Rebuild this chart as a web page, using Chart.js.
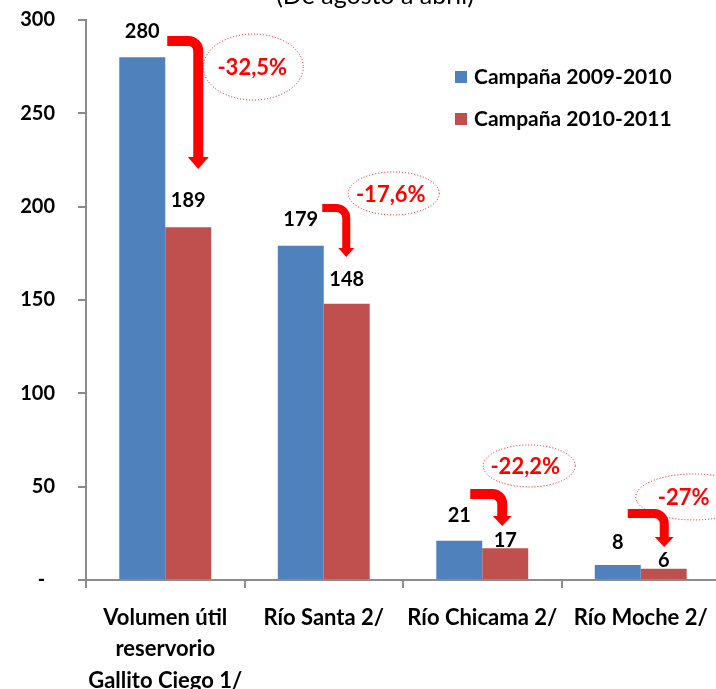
<!DOCTYPE html>
<html><head><meta charset="utf-8">
<script src="https://cdn.jsdelivr.net/npm/chart.js@4.4.0/dist/chart.umd.min.js"></script>
<style>html,body{margin:0;padding:0;background:#fff;overflow:hidden;width:716px;height:689px}
#wrap{width:724px;height:689px}</style></head>
<body><div id="wrap"><canvas id="c" width="724" height="689"></canvas></div>
<script>
// ---- data ----
const categories = [['Volumen útil','reservorio','Gallito Ciego 1/'], 'Río Santa 2/', 'Río Chicama 2/', 'Río Moche 2/'];
const seriesNames = ['Campaña 2009-2010', 'Campaña 2010-2011'];
const values2009 = [280, 179, 21, 8];
const values2010 = [189, 148, 17, 6];
const changeLabels = ['-32,5%', '-17,6%', '-22,2%', '-27%'];
const yTicks = [0, 50, 100, 150, 200, 250, 300];
const titleText = '(De agosto a abril)';

// ---- style / annotation geometry (y in data units, dx in px from category centre) ----
const FONT = 'Lato, "Open Sans", sans-serif';
const AXIS = '#8C8C8C';
const colors = ['#4F81BD', '#C0504D'];
const labelLift = [[26, 26, 25, 23], [27, 24, 8, 8]];
const arrowGeom = [
  {y0: 288.8, tip: 220.2, dx0: 2,   dxv: 33,   w: 10, hw: 21, hl: 12},
  {y0: 199.3, tip: 173.0, dx0: -1.5, dxv: 22.5, w: 8,  hw: 16, hl: 9},
  {y0: 46.1,  tip: 28.9,  dx0: -12, dxv: 20,   w: 10, hw: 19, hl: 10},
  {y0: 35.6,  tip: 17.7,  dx0: -13, dxv: 23.5, w: 9,  hw: 19, hl: 10}
];
const ellipseGeom = [
  {dx: 88, y: 274.8, rx: 50,   ry: 33,   tdx: -1},
  {dx: 70, y: 207.1, rx: 45.5, ry: 21.5, tdx: -3},
  {dx: 47, y: 61.1,  rx: 46,   ry: 21,   tdx: -4},
  {dx: 53, y: 44.5,  rx: 58,   ry: 23,   tdx: -10}
];

const decor = {
  id: 'decor',
  afterDatasetsDraw(chart) {
    const ctx = chart.ctx, xs = chart.scales.x, ys = chart.scales.y;
    ctx.save();
    // value labels
    ctx.font = 'bold 20px ' + FONT;
    ctx.fillStyle = '#000';
    ctx.textAlign = 'center';
    ctx.textBaseline = 'middle';
    chart.data.datasets.forEach((ds, di) => {
      chart.getDatasetMeta(di).data.forEach((el, i) => {
        ctx.fillText(String(ds.data[i]), el.x, el.y - labelLift[di][i]);
      });
    });
    // arrows
    ctx.strokeStyle = '#FF0000';
    ctx.fillStyle = '#FF0000';
    arrowGeom.forEach((g, i) => {
      const cx = xs.getPixelForValue(i);
      const x0 = cx + g.dx0, xv = cx + g.dxv;
      const y0 = ys.getPixelForValue(g.y0), yt = ys.getPixelForValue(g.tip);
      const r = 10;
      ctx.lineWidth = g.w;
      ctx.lineCap = 'butt';
      ctx.beginPath();
      ctx.moveTo(x0, y0);
      ctx.lineTo(xv - r, y0);
      ctx.arcTo(xv, y0, xv, y0 + r, r);
      ctx.lineTo(xv, yt - g.hl + 1);
      ctx.stroke();
      ctx.beginPath();
      ctx.moveTo(xv - g.hw / 2, yt - g.hl);
      ctx.lineTo(xv + g.hw / 2, yt - g.hl);
      ctx.lineTo(xv, yt);
      ctx.closePath();
      ctx.fill();
    });
    // dotted ellipses with percentage text
    ellipseGeom.forEach((g, i) => {
      const ex = xs.getPixelForValue(i) + g.dx, ey = ys.getPixelForValue(g.y);
      ctx.lineWidth = 1;
      ctx.setLineDash([1, 2]);
      ctx.strokeStyle = '#FF0000';
      ctx.beginPath();
      ctx.ellipse(ex, ey, g.rx, g.ry, 0, 0, Math.PI * 2);
      ctx.stroke();
      ctx.setLineDash([]);
      ctx.font = 'bold 22px ' + FONT;
      ctx.fillStyle = '#FF0000';
      ctx.textAlign = 'center';
      ctx.textBaseline = 'middle';
      ctx.fillText(changeLabels[i], ex + g.tdx, ey + 1);
    });
    // legend
    ctx.font = 'bold 21px ' + FONT;
    ctx.textAlign = 'left';
    ctx.textBaseline = 'middle';
    chart.data.datasets.forEach((ds, di) => {
      const yy = 77 + di * 42;
      ctx.fillStyle = ds.backgroundColor;
      ctx.fillRect(455, yy - 6, 12, 12);
      ctx.fillStyle = '#000';
      ctx.fillText(ds.label, 474, yy);
    });
    // title (cut off at the top)
    ctx.font = '25px ' + FONT;
    ctx.textAlign = 'center';
    ctx.textBaseline = 'alphabetic';
    ctx.fillStyle = '#000';
    ctx.fillText(titleText, 375, 4);
    ctx.restore();
  }
};

new Chart(document.getElementById('c'), {
  type: 'bar',
  data: {
    labels: categories,
    datasets: [
      {label: seriesNames[0], data: values2009, backgroundColor: colors[0], barPercentage: 1, categoryPercentage: 0.58, borderWidth: 0},
      {label: seriesNames[1], data: values2010, backgroundColor: colors[1], barPercentage: 1, categoryPercentage: 0.58, borderWidth: 0}
    ]
  },
  options: {
    responsive: false,
    devicePixelRatio: 1,
    animation: false,
    layout: {padding: {top: 20, right: 4, left: 0, bottom: 0}},
    plugins: {legend: {display: false}, tooltip: {enabled: false}, title: {display: false}},
    scales: {
      x: {
        offset: true,
        grid: {offset: true, drawOnChartArea: false, drawTicks: true, tickLength: 8, color: AXIS, lineWidth: 2},
        border: {display: true, color: AXIS, width: 2},
        ticks: {color: '#000', font: {family: FONT, size: 22, weight: 'bold', lineHeight: 1.43}, padding: 14, maxRotation: 0, minRotation: 0, autoSkip: false},
        afterFit: s => { s.height = 109; }
      },
      y: {
        min: 0, max: 300,
        afterBuildTicks: s => { s.ticks = yTicks.map(v => ({value: v})); },
        grid: {drawOnChartArea: false, drawTicks: true, tickLength: 8, color: AXIS, lineWidth: 2},
        border: {display: true, color: AXIS, width: 2},
        ticks: {color: '#000', font: {family: FONT, size: 20, weight: 'bold'}, padding: 23,
          callback: v => v === 0 ? '-  ' : String(v)},
        afterFit: s => { s.width = 86; s.paddingTop = 0; s.paddingBottom = 0; }
      }
    }
  },
  plugins: [decor]
});
</script>
</body></html>
